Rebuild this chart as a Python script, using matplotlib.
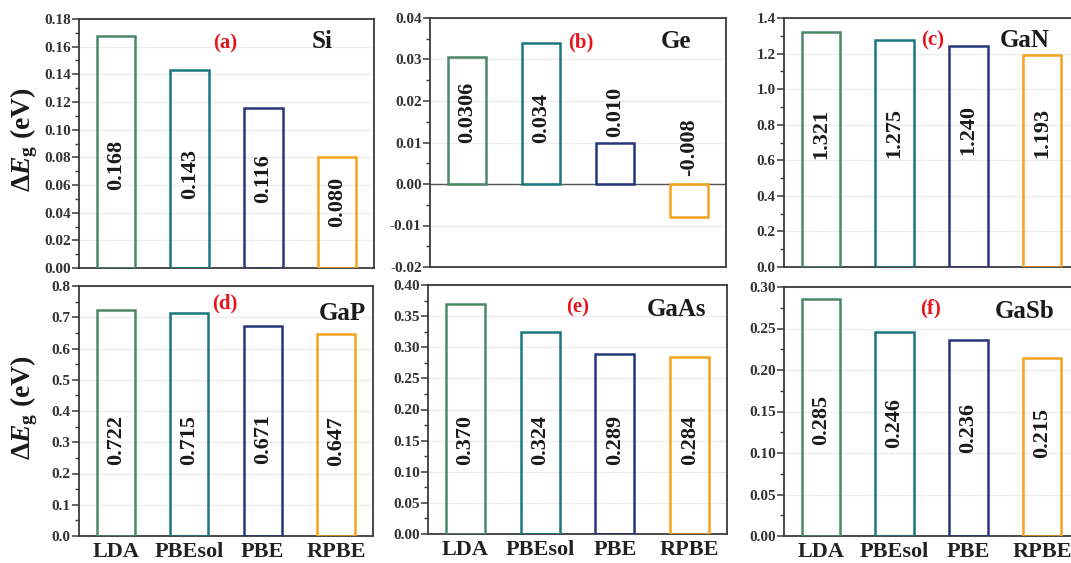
import numpy as np
import matplotlib
matplotlib.use('Agg')
import matplotlib.pyplot as plt
from matplotlib.ticker import MultipleLocator, AutoMinorLocator, FormatStrFormatter

plt.rcParams['font.family'] = ['Liberation Serif', 'DejaVu Serif']
plt.rcParams['font.weight'] = 'bold'
plt.rcParams['mathtext.fontset'] = 'custom'
plt.rcParams['mathtext.rm'] = 'Liberation Serif:weight=bold'
plt.rcParams['mathtext.it'] = 'Liberation Serif:style=italic:weight=bold'
plt.rcParams['mathtext.bf'] = 'Liberation Serif:weight=bold'

# functionals and band gap errors (eV)
methods = ['LDA', 'PBEsol', 'PBE', 'RPBE']
materials = ['Si', 'Ge', 'GaN', 'GaP', 'GaAs', 'GaSb']
panel_tags = ['(a)', '(b)', '(c)', '(d)', '(e)', '(f)']
si = [0.168, 0.143, 0.116, 0.080]
ge = [0.0306, 0.034, 0.010, -0.008]
gan = [1.321, 1.275, 1.240, 1.193]
gap = [0.722, 0.715, 0.671, 0.647]
gaas = [0.370, 0.324, 0.289, 0.284]
gasb = [0.285, 0.246, 0.236, 0.215]
si_txt = ['0.168', '0.143', '0.116', '0.080']
ge_txt = ['0.0306', '0.034', '0.010', '-0.008']
gan_txt = ['1.321', '1.275', '1.240', '1.193']
gap_txt = ['0.722', '0.715', '0.671', '0.647']
gaas_txt = ['0.370', '0.324', '0.289', '0.284']
gasb_txt = ['0.285', '0.246', '0.236', '0.215']

values = [si, ge, gan, gap, gaas, gasb]
texts = [si_txt, ge_txt, gan_txt, gap_txt, gaas_txt, gasb_txt]

# axis settings: (ymin, ymax, major step, format)
yaxes = [(0, 0.18, 0.02, '%.2f'), (-0.02, 0.04, 0.01, '%.2f'),
         (0, 1.4, 0.2, '%.1f'), (0, 0.8, 0.1, '%.1f'),
         (0, 0.40, 0.05, '%.2f'), (0, 0.30, 0.05, '%.2f')]

# layout (pixels: left, right, top, bottom)
W, H = 1071, 563
boxes = [(79, 374, 19, 268), (430, 726, 18, 267), (784, 1079, 18, 267),
         (79, 373, 286, 536), (428, 727, 285, 534), (784, 1079, 287, 536)]
# vertical centre of value labels, axes fraction
label_y = [[0.414, 0.377, 0.361, 0.265], [0.622, 0.598, 0.622, 0.482],
           [0.534, 0.54, 0.55, 0.54], [0.385, 0.385, 0.39, 0.38],
           [0.377, 0.377, 0.377, 0.377], [0.466, 0.454, 0.434, 0.414]]
tag_pos = [(0.495, 0.90), (0.51, 0.90), (0.505, 0.91),
           (0.495, 0.93), (0.50, 0.91), (0.495, 0.915)]
name_pos = [(0.825, 0.91), (0.83, 0.905), (0.817, 0.91),
            (0.895, 0.89), (0.83, 0.90), (0.817, 0.90)]

colors = ['#4c8868', '#1c7680', '#27367a', '#f5a21c']
spine_c = '#3a3a3a'

fig = plt.figure(figsize=(W / 100, H / 100), dpi=100)
x = np.arange(1, 5)

for i in range(6):
    l, r, t, b = boxes[i]
    ax = fig.add_axes([l / W, 1 - b / H, (r - l) / W, (b - t) / H])
    ymin, ymax, step, fmt = yaxes[i]
    ax.bar(x, values[i], width=0.52, fill=False, edgecolor=colors,
           linewidth=1.8, zorder=3)
    ax.set_xlim(0.5, 4.5)
    ax.set_ylim(ymin, ymax)
    ax.yaxis.set_major_locator(MultipleLocator(step))
    ax.yaxis.set_minor_locator(AutoMinorLocator(2))
    ax.yaxis.set_major_formatter(FormatStrFormatter(fmt))
    ax.yaxis.grid(True, color='#ebebeb', linewidth=0.9)
    ax.set_axisbelow(True)
    if ymin < 0:
        ax.axhline(0, color='#555555', linewidth=1.0, zorder=2)
    for s in ax.spines.values():
        s.set_color(spine_c)
        s.set_linewidth(1.3)
    ax.tick_params(axis='y', which='major', direction='out', length=5,
                   width=1.1, color=spine_c, labelsize=11, labelcolor='#333333', pad=1)
    ax.tick_params(axis='y', which='minor', direction='out', length=3,
                   width=1.0, color=spine_c)
    ax.set_xticks(x)
    if i >= 3:
        ax.set_xticklabels(methods, fontsize=16, color='#222222')
        ax.tick_params(axis='x', length=0, pad=4)
    else:
        ax.set_xticklabels([])
        ax.tick_params(axis='x', length=0)
    for j in range(4):
        ax.text(x[j], label_y[i][j], texts[i][j], transform=ax.get_xaxis_transform(),
                rotation=90, ha='center', va='center', fontsize=16,
                color='#1a1a1a', zorder=4)
    ax.text(*tag_pos[i], panel_tags[i], transform=ax.transAxes, ha='center',
            va='center', fontsize=15, color='#e8141c')
    ax.text(*name_pos[i], materials[i], transform=ax.transAxes, ha='center',
            va='center', fontsize=18, color='#1a1a1a')

ylab = r'$\mathit{\Delta E}_{\mathrm{g}}$ (eV)'
fig.text(24 / W, 1 - 140 / H, ylab, rotation=90, ha='center', va='center',
         fontsize=20, color='#1a1a1a')
fig.text(24 / W, 1 - 408 / H, ylab, rotation=90, ha='center', va='center',
         fontsize=20, color='#1a1a1a')

fig.savefig('out.png', dpi=100)
